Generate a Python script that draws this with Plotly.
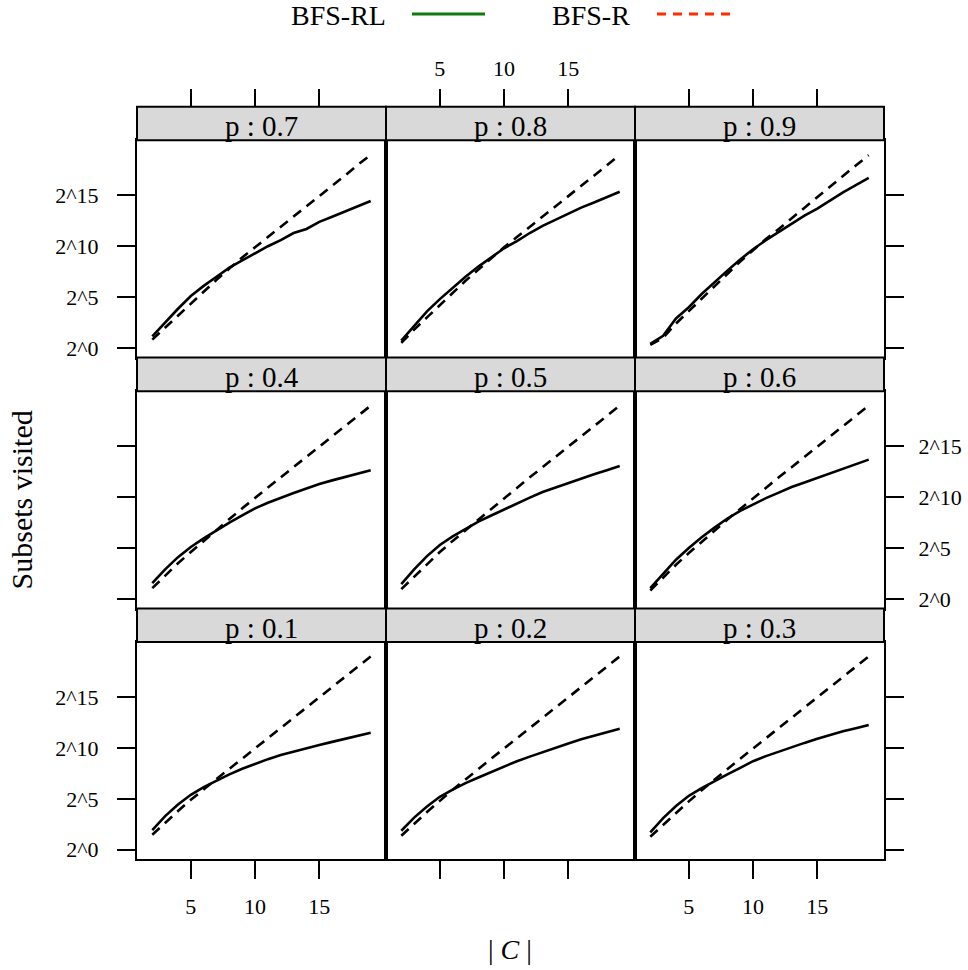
import plotly.graph_objects as go

# ---------------- data ----------------
C_size = list(range(2, 20))

# BFS-RL (solid) : log2(subsets visited)
rl_p01 = [1.93, 3.3, 4.45, 5.4, 6.15, 6.8, 7.4, 7.95, 8.45, 8.9, 9.3, 9.65, 9.97, 10.3, 10.6, 10.9, 11.2, 11.5]
rl_p02 = [1.86, 3.15, 4.25, 5.2, 5.9, 6.55, 7.1, 7.65, 8.2, 8.7, 9.15, 9.6, 10.05, 10.45, 10.85, 11.2, 11.55, 11.9]
rl_p03 = [1.7, 3.1, 4.3, 5.3, 6.05, 6.75, 7.4, 8.05, 8.7, 9.2, 9.65, 10.1, 10.5, 10.9, 11.3, 11.65, 11.95, 12.25]
rl_p04 = [1.54, 2.9, 4.1, 5.1, 5.95, 6.75, 7.5, 8.2, 8.9, 9.45, 9.95, 10.4, 10.85, 11.3, 11.65, 12.0, 12.3, 12.65]
rl_p05 = [1.44, 2.9, 4.2, 5.3, 6.15, 6.9, 7.6, 8.2, 8.8, 9.4, 9.95, 10.5, 10.95, 11.4, 11.8, 12.25, 12.65, 13.07]
rl_p06 = [1.05, 2.5, 3.85, 5.0, 6.05, 7.0, 7.9, 8.65, 9.3, 9.9, 10.45, 11.0, 11.45, 11.9, 12.3, 12.8, 13.25, 13.69]
rl_p07 = [1.14, 2.5, 3.85, 5.1, 6.1, 7.0, 7.9, 8.6, 9.3, 10.0, 10.6, 11.3, 11.7, 12.4, 12.9, 13.4, 13.9, 14.44]
rl_p08 = [0.72, 2.2, 3.6, 4.8, 5.9, 7.0, 8.0, 8.9, 9.8, 10.5, 11.3, 12.0, 12.6, 13.2, 13.8, 14.3, 14.8, 15.36]
rl_p09 = [0.39, 1.2, 2.9, 4.0, 5.3, 6.5, 7.6, 8.7, 9.7, 10.6, 11.4, 12.2, 13.0, 13.7, 14.5, 15.3, 16.0, 16.73]

# BFS-R (dashed)
r_p01 = [1.47, 2.65, 3.8, 4.9, 5.95, 6.95, 7.95, 8.95, 9.95, 10.95, 11.95, 12.95, 13.95, 14.95, 15.95, 16.95, 18.0, 19.0]
r_p02 = [1.37, 2.55, 3.7, 4.8, 5.9, 6.9, 7.95, 8.95, 9.95, 10.95, 11.95, 12.95, 13.95, 14.95, 15.95, 16.95, 18.0, 19.0]
r_p03 = [1.27, 2.45, 3.6, 4.75, 5.85, 6.9, 7.9, 8.95, 9.95, 10.95, 11.95, 12.95, 13.95, 14.95, 15.95, 16.95, 18.0, 19.0]
r_p04 = [1.05, 2.3, 3.5, 4.6, 5.7, 6.8, 7.85, 8.9, 9.95, 10.95, 11.95, 12.95, 13.95, 14.95, 15.95, 16.95, 18.0, 19.0]
r_p05 = [0.95, 2.2, 3.45, 4.6, 5.7, 6.75, 7.8, 8.85, 9.9, 10.95, 11.95, 12.95, 13.95, 14.95, 15.95, 16.95, 18.0, 19.0]
r_p06 = [0.82, 2.1, 3.35, 4.5, 5.65, 6.7, 7.8, 8.85, 9.9, 10.9, 11.95, 12.95, 13.95, 14.95, 15.95, 16.95, 18.0, 19.0]
r_p07 = [0.82, 2.0, 3.2, 4.4, 5.6, 6.7, 7.8, 8.9, 9.9, 10.9, 11.95, 12.95, 13.95, 14.95, 15.95, 16.95, 18.0, 19.0]
r_p08 = [0.49, 1.8, 3.0, 4.2, 5.4, 6.6, 7.7, 8.8, 9.9, 10.9, 11.9, 12.95, 13.95, 14.95, 15.95, 16.95, 17.95, 19.0]
r_p09 = [0.29, 1.0, 2.4, 3.6, 4.9, 6.1, 7.3, 8.5, 9.6, 10.7, 11.7, 12.75, 13.8, 14.85, 15.9, 16.95, 17.95, 18.95]

x_tickvals = [5, 10, 15]
x_ticktext = ["5", "10", "15"]
y_tickvals = [0, 5, 10, 15]
y_ticktext = ["2^0", "2^5", "2^10", "2^15"]

panel_rows = [["0.7", "0.8", "0.9"], ["0.4", "0.5", "0.6"], ["0.1", "0.2", "0.3"]]
rl_series = {"0.1": rl_p01, "0.2": rl_p02, "0.3": rl_p03, "0.4": rl_p04, "0.5": rl_p05,
             "0.6": rl_p06, "0.7": rl_p07, "0.8": rl_p08, "0.9": rl_p09}
r_series = {"0.1": r_p01, "0.2": r_p02, "0.3": r_p03, "0.4": r_p04, "0.5": r_p05,
            "0.6": r_p06, "0.7": r_p07, "0.8": r_p08, "0.9": r_p09}

# ---------------- layout geometry ----------------
W, H = 968, 970
FONT = "Liberation Serif"
col_px = [137, 386, 635, 884]
row_top_px = [107, 358.7, 610.3]
strip_px = 33.7
row_px = 251.7
panel_px = row_px - strip_px
x_range = [0.81, 20.19]
y_range = [-0.95, 20.42]


def px_x(v):
    return v / W


def px_y(v):
    return 1 - v / H


fig = go.Figure()
layout = dict(
    width=W, height=H, margin=dict(l=0, r=0, t=0, b=0),
    paper_bgcolor="white", plot_bgcolor="white", showlegend=False,
    font=dict(family=FONT, color="black"),
)
shapes = []
annotations = []

axis_common = dict(showgrid=False, zeroline=False, showline=True, linecolor="black",
                   linewidth=2, mirror=True, ticklen=18, tickwidth=2, tickcolor="black",
                   tickfont=dict(family=FONT, size=22, color="black"), fixedrange=True)

for ri, row in enumerate(panel_rows):
    for ci, p in enumerate(row):
        k = ri * 3 + ci + 1
        xn = "x" if k == 1 else f"x{k}"
        yn = "y" if k == 1 else f"y{k}"
        xkey = "xaxis" if k == 1 else f"xaxis{k}"
        ykey = "yaxis" if k == 1 else f"yaxis{k}"
        top = row_top_px[ri] + strip_px
        bot = row_top_px[ri] + row_px

        xa = dict(axis_common, domain=[px_x(col_px[ci]), px_x(col_px[ci + 1])], anchor=yn,
                  range=x_range, tickvals=x_tickvals, ticktext=x_ticktext, side="bottom",
                  ticklabelstandoff=8)
        if ri == 2:
            xa.update(ticks="outside", showticklabels=(ci != 1))
        else:
            xa.update(ticks="", showticklabels=False)
        layout[xkey] = xa

        ya = dict(axis_common, domain=[px_y(bot), px_y(top)], anchor=xn, range=y_range,
                  tickvals=y_tickvals, ticktext=y_ticktext, ticklabelstandoff=14)
        if ci == 0:
            ya.update(side="left", ticks="outside", showticklabels=(ri != 1))
        elif ci == 2:
            ya.update(side="right", ticks="outside", showticklabels=(ri == 1),
                      ticklabelstandoff=10)
        else:
            ya.update(ticks="", showticklabels=False)
        layout[ykey] = ya

        fig.add_trace(go.Scatter(x=C_size, y=rl_series[p], mode="lines", xaxis=xn, yaxis=yn,
                                 line=dict(color="black", width=2.6), name="BFS-RL",
                                 hoverinfo="skip"))
        fig.add_trace(go.Scatter(x=C_size, y=r_series[p], mode="lines", xaxis=xn, yaxis=yn,
                                 line=dict(color="black", width=2.6, dash="10px,7px"),
                                 name="BFS-R", hoverinfo="skip"))

        # strip
        h_ratio = strip_px / panel_px
        shapes.append(dict(type="rect", xref=f"{xn} domain", yref=f"{yn} domain",
                           x0=0, x1=1, y0=1, y1=1 + h_ratio, fillcolor="#d9d9d9",
                           line=dict(color="black", width=2), layer="above"))
        annotations.append(dict(text=f"p : {p}", xref=f"{xn} domain", yref=f"{yn} domain",
                                x=0.5, y=1 + h_ratio / 2, xanchor="center", yanchor="middle",
                                showarrow=False, yshift=-3,
                                font=dict(family=FONT, size=29, color="black")))

# top tick axes (above the strips of the top row)
for ci in range(3):
    k = 10 + ci
    base = "x" if ci == 0 else f"x{ci + 1}"
    layout[f"xaxis{k}"] = dict(axis_common, overlaying=base, anchor="free",
                               position=px_y(row_top_px[0]), side="top",
                               domain=[px_x(col_px[ci]), px_x(col_px[ci + 1])],
                               range=x_range, tickvals=x_tickvals, ticktext=x_ticktext,
                               ticks="outside", showline=False, mirror=False,
                               showticklabels=(ci == 1), ticklabelstandoff=4)
    yb = "y" if ci == 0 else f"y{ci + 1}"
    fig.add_trace(go.Scatter(x=C_size, y=rl_series[panel_rows[0][ci]], mode="lines",
                             xaxis=f"x{k}", yaxis=yb, line=dict(width=0, color="rgba(0,0,0,0)"),
                             hoverinfo="skip", showlegend=False))

# axis titles
annotations.append(dict(text="Subsets visited", x=px_x(21), y=px_y(502), xref="paper", yref="paper",
                        textangle=-90, showarrow=False, xanchor="center", yanchor="middle",
                        font=dict(family=FONT, size=30, color="black")))
annotations.append(dict(text="| <i>C</i> |", x=px_x(510), y=px_y(952), xref="paper", yref="paper",
                        showarrow=False, xanchor="center", yanchor="middle",
                        font=dict(family=FONT, size=28, color="black")))

# key at top
LEG_Y = 16
annotations.append(dict(text="BFS-RL", x=px_x(338), y=px_y(LEG_Y), xref="paper", yref="paper",
                        showarrow=False, xanchor="center", yanchor="middle",
                        font=dict(family=FONT, size=28, color="black")))
annotations.append(dict(text="BFS-R", x=px_x(591), y=px_y(LEG_Y), xref="paper", yref="paper",
                        showarrow=False, xanchor="center", yanchor="middle",
                        font=dict(family=FONT, size=28, color="black")))
shapes.append(dict(type="line", xref="paper", yref="paper", x0=px_x(412), x1=px_x(485),
                   y0=px_y(14), y1=px_y(14), line=dict(color="#107a10", width=3)))
shapes.append(dict(type="line", xref="paper", yref="paper", x0=px_x(657), x1=px_x(730),
                   y0=px_y(14), y1=px_y(14),
                   line=dict(color="#ff2d00", width=3, dash="9px,7px")))

layout["shapes"] = shapes
layout["annotations"] = annotations
fig.update_layout(**layout)
fig.write_html("out.html",
               config={"displayModeBar": False, "staticPlot": True},
               post_script="document.body.style.margin='0';document.body.style.overflow='hidden';")
